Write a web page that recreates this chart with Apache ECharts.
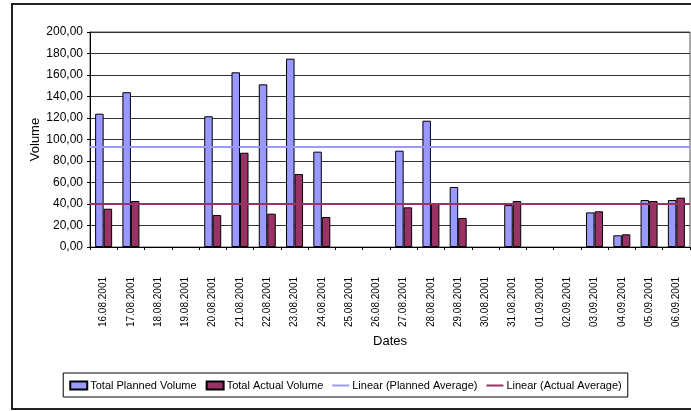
<!DOCTYPE html>
<html>
<head>
<meta charset="utf-8">
<script src="https://cdn.jsdelivr.net/npm/echarts@6/dist/echarts.min.js"></script>
<style>
  html, body { margin: 0; padding: 0; background: #fff; }
  #chart { width: 691px; height: 411px; }
</style>
</head>
<body>
<div id="chart"></div>
<script>
// Daily volumes, 16.08.2001 – 06.09.2001 (null = no record that day)
const dates = [
  '16.08.2001', '17.08.2001', '18.08.2001', '19.08.2001', '20.08.2001', '21.08.2001',
  '22.08.2001', '23.08.2001', '24.08.2001', '25.08.2001', '26.08.2001', '27.08.2001',
  '28.08.2001', '29.08.2001', '30.08.2001', '31.08.2001', '01.09.2001', '02.09.2001',
  '03.09.2001', '04.09.2001', '05.09.2001', '06.09.2001'
];
const plannedVolume = [
  124, 144, null, null, 121.6, 162.5, 151.3, 175.2, 88.7, null, null, 89.6,
  117.5, 55.8, null, 39, null, null, 32.2, 10.9, 43.7, 43.7
];
const actualVolume = [
  35.6, 42.8, null, null, 29.8, 87.7, 31, 67.9, 27.9, null, null, 36.9,
  40, 27, null, 42.8, null, null, 33.2, 11.8, 42.8, 45.9
];
// Average trend levels
const plannedAverage = 93.5;
const actualAverage = 40.2;
const yTicks = { min: 0, max: 200, interval: 20 };

const FONT = '"Liberation Sans Narrow", "Arial Narrow", "Liberation Sans", Arial, sans-serif';
const PLANNED = '#9999FF';
const ACTUAL = '#993366';
// Thin horizontal bar used as the legend key for the trend lines
const LINE_KEY = 'path://M0,0H17V2H0Z';

const chart = echarts.init(document.getElementById('chart'), null, { renderer: 'canvas' });

const fmt = v => v.toFixed(2).replace('.', ',');

// A flat trend line across the whole plot
function averageLine(name, value, color) {
  return {
    name: name,
    type: 'line',
    data: [],
    symbol: 'none',
    itemStyle: { color: color },
    lineStyle: { color: color, width: 2 },
    markLine: {
      silent: true, symbol: 'none', label: { show: false },
      lineStyle: { color: color, width: 2, type: 'solid' },
      data: [{ yAxis: value }]
    },
    z: 5
  };
}

chart.setOption({
  animation: false,
  backgroundColor: '#fff',
  textStyle: { fontFamily: FONT },
  graphic: [{
    type: 'rect',
    shape: { x: 12, y: 4, width: 700, height: 405 },
    style: { fill: 'none', stroke: '#222', lineWidth: 2 },
    silent: true,
    z: -1
  }],
  grid: { left: 90, right: 1, top: 32, bottom: 164, show: true, borderColor: '#555', borderWidth: 1 },
  legend: {
    left: 'center', top: 373,
    padding: [7, 6, 6, 6],
    itemGap: 9,
    itemWidth: 17, itemHeight: 8,
    borderColor: '#000', borderWidth: 1,
    textStyle: { fontFamily: FONT, fontSize: 11, color: '#000', padding: [0, 0, 0, -2] },
    data: [
      { name: 'Total Planned Volume', icon: 'rect' },
      { name: 'Total Actual Volume', icon: 'rect' },
      { name: 'Linear (Planned Average)', icon: LINE_KEY, itemStyle: { color: PLANNED, borderWidth: 0 } },
      { name: 'Linear (Actual Average)', icon: LINE_KEY, itemStyle: { color: ACTUAL, borderWidth: 0 } }
    ]
  },
  xAxis: {
    type: 'category',
    data: dates,
    name: 'Dates',
    nameLocation: 'middle',
    nameGap: 88,
    nameMoveOverlap: false,
    nameTextStyle: { fontFamily: FONT, fontSize: 13, color: '#000' },
    axisLine: { lineStyle: { color: '#000', width: 1 } },
    axisTick: { show: true, length: 3, lineStyle: { color: '#000' } },
    axisLabel: { rotate: 90, fontSize: 10, color: '#000', fontFamily: FONT, margin: 30 },
    splitLine: { show: false }
  },
  yAxis: {
    type: 'value',
    min: yTicks.min, max: yTicks.max, interval: yTicks.interval,
    name: 'Volume',
    nameLocation: 'middle',
    nameGap: 48,
    nameMoveOverlap: false,
    nameRotate: 90,
    nameTextStyle: { fontFamily: FONT, fontSize: 13, color: '#000' },
    axisLine: { show: true, lineStyle: { color: '#000', width: 1 } },
    axisTick: { show: true, length: 3, lineStyle: { color: '#000' } },
    axisLabel: { formatter: fmt, fontSize: 12, color: '#000', fontFamily: FONT, margin: 7 },
    splitLine: { show: true, lineStyle: { color: '#333', width: 1 } }
  },
  series: [
    {
      name: 'Total Planned Volume',
      type: 'bar',
      data: plannedVolume,
      barWidth: 8.5,
      barGap: '0%',
      itemStyle: { color: PLANNED, borderColor: '#000', borderWidth: 1 }
    },
    {
      name: 'Total Actual Volume',
      type: 'bar',
      data: actualVolume,
      barWidth: 8.5,
      barGap: '0%',
      itemStyle: { color: ACTUAL, borderColor: '#000', borderWidth: 1 }
    },
    averageLine('Linear (Planned Average)', plannedAverage, PLANNED),
    averageLine('Linear (Actual Average)', actualAverage, ACTUAL)
  ]
});
</script>
</body>
</html>
